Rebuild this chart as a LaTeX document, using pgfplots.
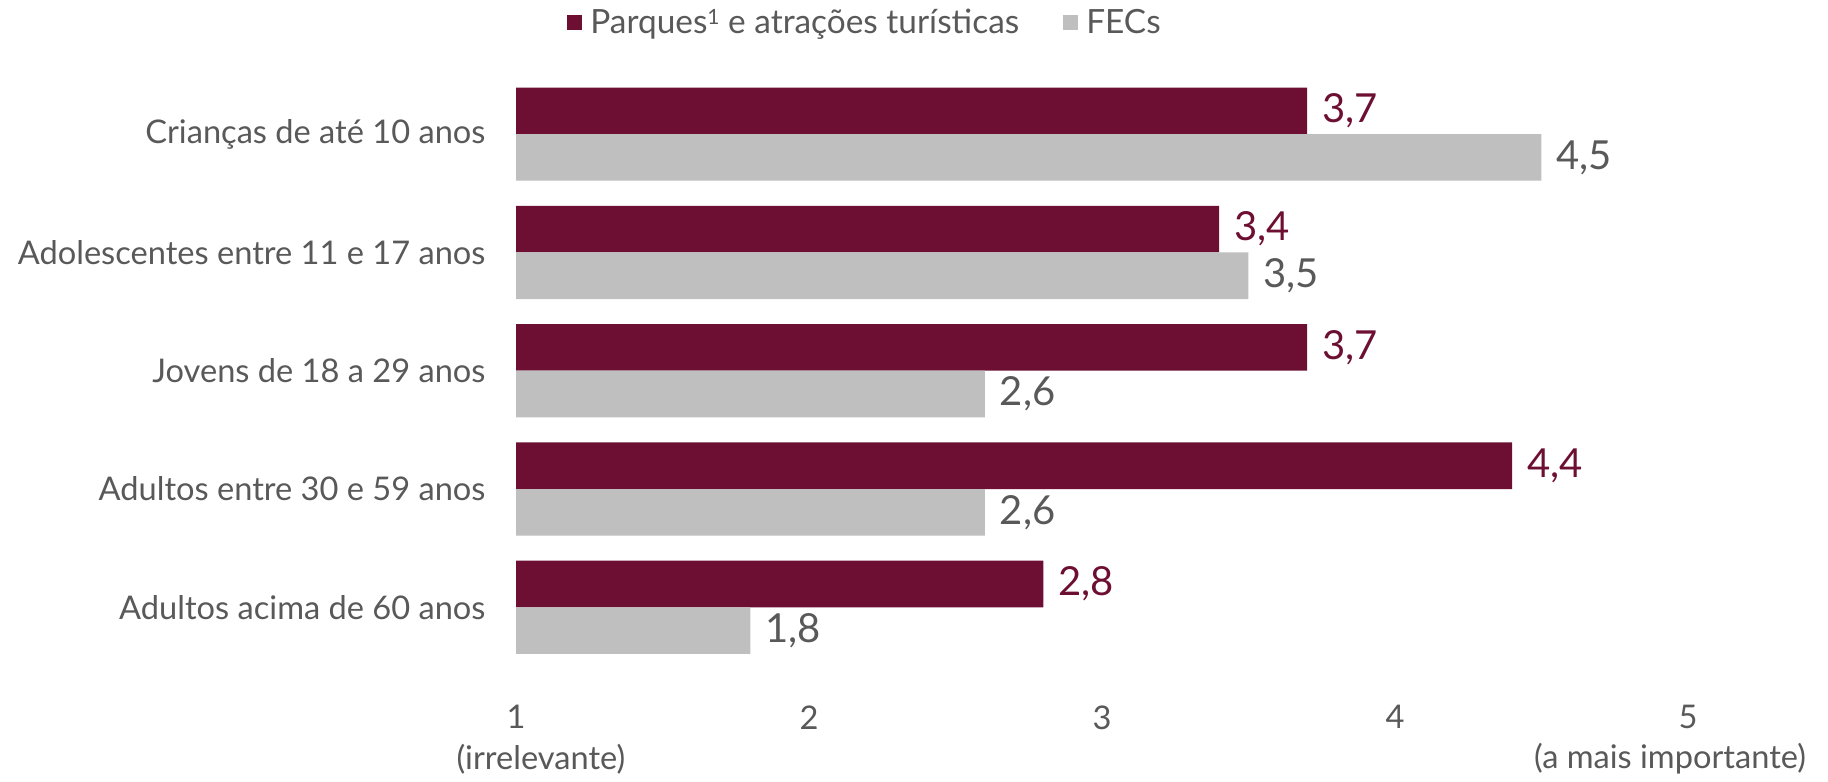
\documentclass[border=0pt]{standalone}
\usepackage{pgfplots}
\pgfplotsset{compat=1.18}
\usepackage{fontspec}
\setmainfont{Lato}
\definecolor{parq}{HTML}{6D0F33}
\definecolor{fec}{HTML}{BFBFBF}
\definecolor{txt}{HTML}{595959}
\newcommand{\lbl}{\fontsize{16.3}{19}\selectfont}
\newcommand{\leg}{\fontsize{16.7}{19}\selectfont}
\newcommand{\vlbl}{\fontsize{20}{24}\selectfont}

\begin{document}
\begin{tikzpicture}
\begin{axis}[
    scale only axis,
    width=586pt, height=295.75pt,
    xmin=1, xmax=5, ymin=-0.5, ymax=4.5,
    xbar, bar width=0.394,
    axis line style={draw=none},
    major tick length=0pt,
    xtick={1,2,3,4,5},
    ytick={0,1,2,3,4},
    yticklabels={Adultos acima de 60 anos, Adultos entre 30 e 59 anos, Jovens de 18 a 29 anos, Adolescentes entre 11 e 17 anos, Crianças de até 10 anos},
    /pgf/number format/assume math mode=true,
    xticklabel style={font=\lbl, text=txt, yshift=-16pt},
    yticklabel style={font=\lbl, text=txt, xshift=-11.7pt},
    clip=false,
    nodes near coords={\pgfmathprintnumber[fixed,fixed zerofill,precision=1,use comma]{\pgfplotspointmeta}},
    nodes near coords style={font=\vlbl, xshift=4pt},
    legend style={at={(rel axis cs:0.0384,1.088)}, anchor=west, draw=none, fill=none,
        font=\leg, text=txt, legend columns=2,
        /tikz/every even column/.append style={column sep=20pt}},
    legend image code/.code={\fill[#1] (0pt,-3.75pt) rectangle (7.5pt,3.75pt); \path (9.5pt,0pt);},
]
\addplot[fill=parq, draw=none, bar shift=0.197, every node near coord/.append style={text=parq}]
    coordinates {(2.8,0) (4.4,1) (3.7,2) (3.4,3) (3.7,4)};
\addlegendentry{Parques\raisebox{0.55ex}{\fontsize{10.5}{11}\selectfont 1} e atrações turísticas}
\addplot[fill=fec, draw=none, bar shift=-0.197, every node near coord/.append style={text=txt}]
    coordinates {(1.8,0) (2.6,1) (2.6,2) (3.5,3) (4.5,4)};
\addlegendentry{FECs}
\node[font=\lbl, text=txt] at ([yshift=-46.25pt]axis cs:1.085,-0.5) {(irrelevante)};
\node[font=\lbl, text=txt] at ([yshift=-46.25pt]axis cs:4.939,-0.5) {(a mais importante)};
\path (rel axis cs:-0.4403,-0.1936) rectangle (rel axis cs:1.1195,1.1268);
\end{axis}
\end{tikzpicture}
\end{document}
